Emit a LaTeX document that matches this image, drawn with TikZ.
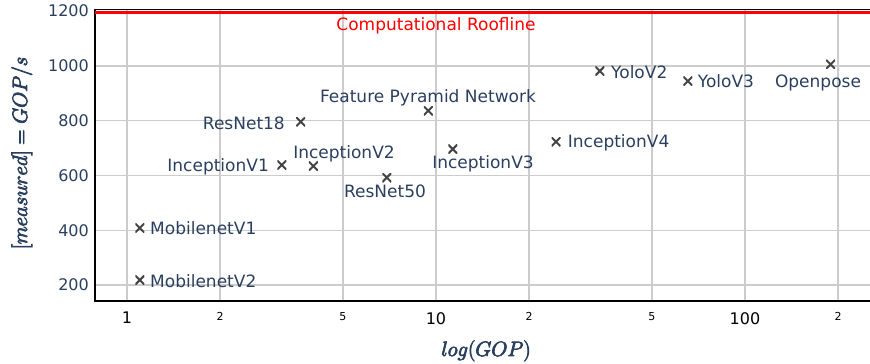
\documentclass[tikz,border=0pt]{standalone}
\usepackage{fontspec}
\newfontfamily\plotfont{DejaVu Sans}
\definecolor{labelblue}{HTML}{2A3F5F}
\definecolor{gridgray}{HTML}{CCCCCC}
\definecolor{markgray}{HTML}{444444}
\definecolor{roofred}{HTML}{FF0000}
% heavier glyphs for the axis titles: fill and stroke the text outlines
\newcommand{\heavytext}[1]{\special{pdf:literal direct 2 Tr 0.8 w}#1\special{pdf:literal direct 0 Tr}}
\begin{document}
\begin{tikzpicture}[x=1pt, y=-1pt,
  declare function={gx(\v)=127+309*log10(\v); gy(\v)=11+(1200-\v)*0.274;},
  gridline/.style={gridgray, line width=1.4pt},
  axisline/.style={black, line width=1.4pt},
  roof/.style={roofred, line width=3pt},
  lbl/.style={font=\plotfont\fontsize{17}{19}\selectfont, text=labelblue, inner sep=0pt},
  ytick/.style={font=\plotfont\fontsize{16}{18}\selectfont, text=labelblue, inner sep=0pt, anchor=east},
  xtickbig/.style={font=\plotfont\fontsize{16}{18}\selectfont, text=black, inner sep=0pt, anchor=north},
  xticksmall/.style={font=\plotfont\fontsize{11}{13}\selectfont, text=black, inner sep=0pt, anchor=north},
  axtitle/.style={font=\fontsize{20.74}{24}\selectfont, text=labelblue, inner sep=0pt},
  xcross/.style={minimum size=9pt, inner sep=0pt, outer sep=0pt,
    path picture={\draw[markgray, line width=2pt]
      (path picture bounding box.north west) -- (path picture bounding box.south east)
      (path picture bounding box.south west) -- (path picture bounding box.north east);}}]
\useasboundingbox (0,0) rectangle (870,364);

% grid: log-spaced verticals, linear horizontals
\foreach \g in {1,2,5,10,20,50,100,200}
  \draw[gridline] ({gx(\g)},9.5) -- ({gx(\g)},301);
\foreach \h in {200,400,600,800,1000}
  \draw[gridline] (95,{gy(\h)}) -- (870,{gy(\h)});

% plot frame
\coordinate (tr) at (870,9.5);
\coordinate (tl) at (95,9.5);
\coordinate (bl) at (95,301);
\coordinate (br) at (870,301);
\draw[axisline] (tr) -- (tl) -- (bl) -- (br);

% computational roofline
\coordinate (roofL) at (95,12);
\coordinate (roofR) at (870,12);
\draw[roof] (roofL) -- (roofR);
\node[lbl, text=roofred, anchor=base] (rooflabel) at (436,30.5) {Computational Roofline};

% tick labels
\foreach \h in {200,400,600,800,1000,1200}
  \node[ytick] (yt\h) at (89,{gy(\h)}) {\h};
\foreach \g in {1,10,100}
  \node[xtickbig] (xt\g) at ({gx(\g)},312) {\g};
\foreach \g/\t in {2/2,5/5,20/2,50/5,200/2}
  \node[xticksmall] (xs\g) at ({gx(\g)},312) {\t};

% measured networks
\foreach \n/\gop/\perf in {mnv1/1.1/408, mnv2/1.1/218, rn18/3.65/796, fpn/9.44/836,
    incv1/3.17/638, incv2/4.01/634, rn50/6.93/592, incv3/11.33/696,
    incv4/24.46/723, yolo2/33.9/981, yolo3/65.3/944, opose/189.3/1005}
  \node[xcross] (\n) at ({gx(\gop)},{gy(\perf)}) {};

% network labels
\node[lbl, anchor=base west] (mnv1-l) at (150,234) {MobilenetV1};
\node[lbl, anchor=base west] (mnv2-l) at (150,287) {MobilenetV2};
\node[lbl, anchor=base east] (rn18-l) at (285,129) {ResNet18};
\node[lbl, anchor=base] (fpn-l) at (428,102.7) {Feature Pyramid Network};
\node[lbl, anchor=base east] (incv1-l) at (269,171.7) {InceptionV1};
\node[lbl, anchor=base] (incv2-l) at (344,158.3) {InceptionV2};
\node[lbl, anchor=base] (rn50-l) at (385,197) {ResNet50};
\node[lbl, anchor=base] (incv3-l) at (483,168.3) {InceptionV3};
\node[lbl, anchor=base west] (incv4-l) at (567.7,147.3) {InceptionV4};
\node[lbl, anchor=base west] (yolo2-l) at (611,78.3) {YoloV2};
\node[lbl, anchor=base west] (yolo3-l) at (697.7,87.3) {YoloV3};
\node[lbl, anchor=base] (opose-l) at (818,87.3) {Openpose};

% axis titles (drawn last)
\node[axtitle, anchor=base] (xtitle) at (486,356) {\heavytext{$log(GOP)$}};
\node[axtitle, anchor=base, rotate=90] (ytitle) at (27,153) {\heavytext{$[measured] = GOP/s$}};
\end{tikzpicture}
\end{document}
